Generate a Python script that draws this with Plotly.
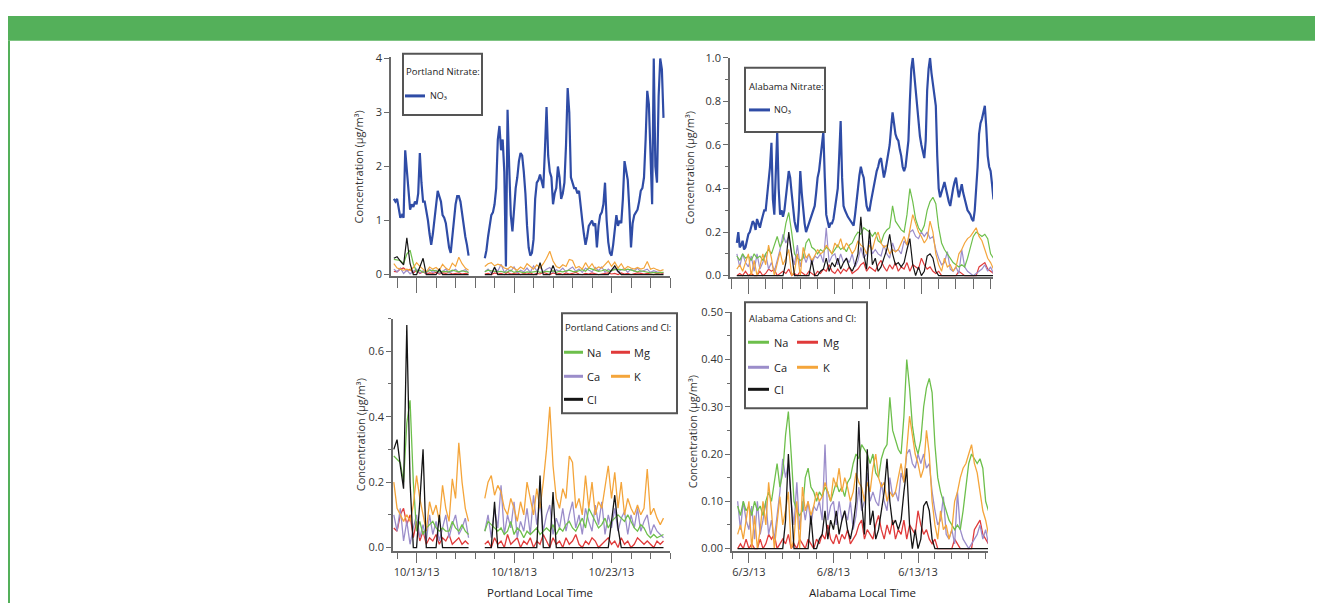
import pandas as pd
import plotly.graph_objects as go

# ---------------- data (µg/m³) ----------------
# Portland: segment 1 starts 2013-10-11 20:00, segment 2 starts 2013-10-16 12:00
P_START1 = "2013-10-11 20:00"
P_START2 = "2013-10-16 12:00"
# nitrate, 2-hour samples
no3_p1 = [1.4, 1.35, 1.4, 1.2, 1.05, 1.1, 1.05, 2.3, 1.95, 1.5,
          1.2, 1.3, 1.25, 1.35, 1.3, 1.5, 2.25, 1.7, 1.35, 1.35,
          1.2, 1.0, 0.75, 0.55, 0.75, 1.0, 1.3, 1.55, 1.45, 1.35,
          1.1, 1.05, 0.95, 0.75, 0.5, 0.4, 0.7, 1.05, 1.3, 1.45,
          1.45, 1.35, 1.1, 0.95, 0.7, 0.55, 0.35]
no3_p2 = [0.3, 0.45, 0.7, 0.9, 1.1, 1.15, 1.3, 1.6, 2.5, 2.75,
          2.3, 2.5, 1.9, 0.15, 3.05, 2.0, 1.1, 0.8, 1.2, 1.6,
          1.8, 2.1, 2.25, 2.2, 1.9, 1.5, 0.9, 0.5, 0.35, 0.4,
          0.65, 1.4, 1.7, 1.75, 1.85, 1.7, 1.6, 2.3, 3.1, 2.2,
          1.9, 1.8, 1.3, 1.5, 1.6, 2.0, 1.8, 1.4, 1.5, 1.7,
          2.4, 3.45, 3.0, 1.8, 1.7, 1.6, 1.6, 1.5, 1.55, 1.2,
          1.0, 0.75, 0.55, 0.7, 0.9, 0.95, 1.0, 0.9, 0.95, 0.5,
          0.9, 1.1, 1.15, 1.3, 1.7, 1.0, 0.6, 0.4, 0.35, 0.55,
          0.9, 1.1, 0.9, 1.0, 0.95, 1.4, 2.1, 1.9, 1.75, 1.2,
          0.5, 0.95, 1.1, 1.15, 1.2, 1.35, 1.55, 1.6, 1.8, 2.5,
          3.4, 3.15, 2.1, 1.3, 4.0, 2.0, 1.7, 3.3, 4.0, 3.8,
          2.9]
# cations and chloride, 4-hour samples
na_p1 = [0.28, 0.27, 0.26, 0.2, 0.38, 0.45, 0.2, 0.05, 0.08, 0.04,
         0.06, 0.07, 0.08, 0.06, 0.05, 0.06, 0.05, 0.05, 0.08, 0.06,
         0.05, 0.07, 0.05, 0.04]
na_p2 = [0.05, 0.08, 0.07, 0.06, 0.05, 0.06, 0.04, 0.05, 0.08, 0.04,
         0.06, 0.05, 0.03, 0.05, 0.04, 0.05, 0.06, 0.04, 0.05, 0.06,
         0.05, 0.07, 0.04, 0.06, 0.05, 0.07, 0.08, 0.06, 0.05, 0.07,
         0.09, 0.06, 0.12, 0.1, 0.08, 0.06, 0.07, 0.09, 0.06, 0.08,
         0.09, 0.1, 0.09, 0.08, 0.1, 0.08, 0.06, 0.05, 0.07, 0.06,
         0.04, 0.03, 0.04, 0.03, 0.035, 0.04]
mg_p1 = [0.06, 0.05, 0.1, 0.12, 0.07, 0.1, 0.03, 0.08, 0.02, 0.05,
         0.01, 0.03, 0.02, 0.04, 0.01, 0.03, 0.02, 0.04, 0.01, 0.02,
         0.03, 0.01, 0.02, 0.01]
mg_p2 = [0.01, 0.02, 0.0, 0.03, 0.01, 0.02, 0.0, 0.04, 0.01, 0.02,
         0.03, 0.0, 0.02, 0.01, 0.03, 0.0, 0.02, 0.01, 0.04, 0.02,
         0.0, 0.03, 0.01, 0.02, 0.0, 0.03, 0.01, 0.02, 0.04, 0.01,
         0.0, 0.02, 0.01, 0.03, 0.02, 0.0, 0.01, 0.02, 0.03, 0.01,
         0.02, 0.0, 0.03, 0.01, 0.02, 0.0, 0.01, 0.03, 0.02, 0.01,
         0.02, 0.01, 0.0, 0.02, 0.01, 0.02]
ca_p1 = [0.1, 0.05, 0.12, 0.02, 0.08, 0.01, 0.06, 0.1, 0.03, 0.07,
         0.02, 0.1, 0.04, 0.08, 0.02, 0.06, 0.1, 0.03, 0.07, 0.1,
         0.04, 0.06, 0.09, 0.03]
ca_p2 = [0.05, 0.1, 0.03, 0.12, 0.06, 0.19, 0.04, 0.1, 0.06, 0.14,
         0.03, 0.08, 0.05, 0.12, 0.04, 0.16, 0.07, 0.14, 0.05, 0.1,
         0.13, 0.04, 0.09, 0.06, 0.12, 0.05, 0.1, 0.14, 0.06, 0.1,
         0.04, 0.12, 0.08, 0.05, 0.13, 0.07, 0.14, 0.04, 0.1, 0.06,
         0.12, 0.05, 0.09, 0.11, 0.04, 0.1, 0.06, 0.12, 0.05, 0.08,
         0.1, 0.04, 0.07, 0.05, 0.04, 0.03]
k_p1 = [0.2, 0.12, 0.1, 0.08, 0.1, 0.08, 0.13, 0.22, 0.15, 0.1,
        0.05, 0.14, 0.1, 0.13, 0.08, 0.19, 0.12, 0.08, 0.21, 0.15,
        0.32, 0.2, 0.12, 0.08]
k_p2 = [0.15, 0.2, 0.22, 0.16, 0.19, 0.17, 0.12, 0.1, 0.15, 0.12,
        0.08, 0.14, 0.1, 0.2, 0.15, 0.1, 0.18, 0.12, 0.2, 0.3,
        0.43, 0.25, 0.15, 0.12, 0.18, 0.15, 0.28, 0.26, 0.12, 0.15,
        0.1, 0.22, 0.12, 0.2, 0.1, 0.14, 0.12, 0.18, 0.25, 0.15,
        0.23, 0.12, 0.2, 0.1, 0.15, 0.12, 0.1, 0.13, 0.1, 0.12,
        0.24, 0.1, 0.12, 0.09, 0.07, 0.09]
cl_p1 = [0.3, 0.33, 0.25, 0.18, 0.68, 0.2, 0.0, 0.0, 0.14, 0.3,
         0.0, 0.0, 0.0, 0.0, 0.1, 0.0, 0.0, 0.0, 0.0, 0.0,
         0.0, 0.0, 0.0, 0.0]
cl_p2 = [0.0, 0.0, 0.0, 0.14, 0.0, 0.0, 0.0, 0.0, 0.0, 0.0,
         0.0, 0.0, 0.0, 0.0, 0.0, 0.0, 0.0, 0.22, 0.0, 0.0,
         0.0, 0.17, 0.0, 0.0, 0.0, 0.0, 0.0, 0.0, 0.0, 0.0,
         0.0, 0.0, 0.0, 0.0, 0.0, 0.0, 0.0, 0.0, 0.0, 0.08,
         0.16, 0.06, 0.0, 0.0, 0.0, 0.0, 0.0, 0.0, 0.0, 0.0,
         0.0, 0.0, 0.0, 0.0, 0.0, 0.0]

# Alabama: starts 2013-06-02 08:00
A_START = "2013-06-02 08:00"
# nitrate, 2-hour samples
no3_a = [0.15, 0.2, 0.13, 0.14, 0.16, 0.12, 0.13, 0.17, 0.19, 0.2,
         0.22, 0.25, 0.24, 0.21, 0.26, 0.24, 0.22, 0.25, 0.28, 0.3,
         0.3, 0.36, 0.42, 0.5, 0.61, 0.35, 0.28, 0.45, 0.66, 0.4,
         0.28, 0.3, 0.27, 0.3, 0.35, 0.42, 0.48, 0.45, 0.38, 0.3,
         0.25, 0.22, 0.2, 0.3, 0.48, 0.38, 0.3, 0.24, 0.2, 0.22,
         0.24, 0.27, 0.28, 0.3, 0.32, 0.38, 0.45, 0.48, 0.55, 0.6,
         0.66, 0.45, 0.28, 0.25, 0.22, 0.24, 0.24, 0.26, 0.3, 0.34,
         0.4, 0.55, 0.71, 0.45, 0.32, 0.3, 0.28, 0.27, 0.26, 0.25,
         0.24, 0.23, 0.28, 0.33, 0.4, 0.46, 0.5, 0.47, 0.45, 0.38,
         0.32, 0.3, 0.3, 0.34, 0.38, 0.42, 0.45, 0.48, 0.5, 0.53,
         0.54, 0.5, 0.45, 0.48, 0.52, 0.56, 0.6, 0.68, 0.75, 0.7,
         0.65, 0.63, 0.62, 0.58, 0.55, 0.5, 0.48, 0.5, 0.55, 0.62,
         0.8, 0.95, 1.0, 0.92, 0.85, 0.76, 0.7, 0.64, 0.6, 0.56,
         0.54, 0.62, 0.85, 0.95, 1.0, 0.93, 0.88, 0.84, 0.78, 0.55,
         0.4, 0.36, 0.38, 0.41, 0.43, 0.4, 0.36, 0.34, 0.32, 0.37,
         0.4, 0.43, 0.45, 0.4, 0.36, 0.39, 0.42, 0.38, 0.35, 0.32,
         0.3, 0.29, 0.28, 0.26, 0.25, 0.3, 0.38, 0.5, 0.65, 0.7,
         0.72, 0.76, 0.78, 0.68, 0.55, 0.5, 0.48, 0.42, 0.35]
# cations and chloride, 4-hour samples
na_a = [0.09, 0.07, 0.1, 0.08, 0.09, 0.07, 0.1, 0.08, 0.09, 0.07,
        0.1, 0.12, 0.1, 0.14, 0.18, 0.13, 0.16, 0.24, 0.29, 0.2,
        0.1, 0.08, 0.07, 0.08, 0.15, 0.17, 0.13, 0.12, 0.1, 0.12,
        0.11, 0.13, 0.12, 0.1, 0.12, 0.14, 0.12, 0.13, 0.11, 0.14,
        0.15, 0.18, 0.2, 0.19, 0.22, 0.21, 0.2, 0.18, 0.2, 0.16,
        0.15, 0.19, 0.21, 0.22, 0.32, 0.25, 0.23, 0.21, 0.2, 0.28,
        0.4, 0.34, 0.26, 0.22, 0.2, 0.23, 0.3, 0.34, 0.36, 0.33,
        0.22, 0.15, 0.12, 0.1, 0.08, 0.06, 0.05, 0.04, 0.05, 0.04,
        0.08, 0.13, 0.18, 0.2, 0.19, 0.18, 0.19, 0.17, 0.1, 0.08]
mg_a = [0.0, 0.01, 0.0, 0.02, 0.0, 0.01, 0.0, 0.0, 0.02, 0.0,
        0.01, 0.03, 0.02, 0.03, 0.0, 0.01, 0.02, 0.01, 0.03, 0.0,
        0.01, 0.0, 0.02, 0.01, 0.0, 0.02, 0.01, 0.0, 0.02, 0.01,
        0.03, 0.02, 0.05, 0.02, 0.01, 0.03, 0.01, 0.03, 0.02, 0.04,
        0.01, 0.02, 0.03, 0.05, 0.06, 0.02, 0.04, 0.03, 0.02, 0.05,
        0.07, 0.04, 0.02, 0.05, 0.03, 0.06, 0.02, 0.04, 0.03, 0.06,
        0.02, 0.05, 0.04, 0.03, 0.08, 0.05, 0.03, 0.04, 0.02, 0.01,
        0.02, 0.0, 0.0, 0.0, 0.0, 0.0, 0.0, 0.02, 0.01, 0.0,
        0.0, 0.0, 0.0, 0.0, 0.04, 0.05, 0.06, 0.03, 0.02, 0.01]
ca_a = [0.1, 0.04, 0.1, 0.06, 0.04, 0.09, 0.02, 0.1, 0.03, 0.06,
        0.1, 0.03, 0.06, 0.02, 0.07, 0.12, 0.19, 0.15, 0.18, 0.1,
        0.05, 0.14, 0.04, 0.1, 0.06, 0.1, 0.05, 0.09, 0.08, 0.1,
        0.06, 0.22, 0.06, 0.09, 0.1, 0.05, 0.1, 0.06, 0.08, 0.06,
        0.1, 0.04, 0.07, 0.13, 0.08, 0.1, 0.16, 0.1, 0.12, 0.1,
        0.09, 0.14, 0.1, 0.08, 0.15, 0.11, 0.12, 0.1, 0.16, 0.14,
        0.2, 0.21, 0.18, 0.17, 0.2, 0.18, 0.2, 0.17, 0.18, 0.12,
        0.08, 0.05, 0.06, 0.11, 0.03, 0.02, 0.04, 0.01, 0.12, 0.04,
        0.02, 0.01, 0.0, 0.01, 0.02, 0.03, 0.05, 0.02, 0.04, 0.01]
k_a = [0.03, 0.05, 0.02, 0.06, 0.1, 0.0, 0.07, 0.0, 0.04, 0.1,
       0.05, 0.14, 0.08, 0.0, 0.05, 0.11, 0.05, 0.08, 0.12, 0.0,
       0.02, 0.1, 0.0, 0.13, 0.08, 0.1, 0.07, 0.09, 0.12, 0.1,
       0.11, 0.14, 0.12, 0.1, 0.15, 0.13, 0.17, 0.12, 0.15, 0.13,
       0.1, 0.12, 0.16, 0.14, 0.13, 0.1, 0.14, 0.12, 0.17, 0.2,
       0.15, 0.13, 0.14, 0.1, 0.12, 0.11, 0.12, 0.15, 0.18, 0.14,
       0.22, 0.28, 0.24, 0.2, 0.18, 0.15, 0.17, 0.25, 0.2, 0.1,
       0.05, 0.02, 0.08, 0.04, 0.05, 0.02, 0.04, 0.1, 0.12, 0.15,
       0.17, 0.18, 0.2, 0.22, 0.18, 0.16, 0.12, 0.08, 0.06, 0.03]
cl_a = [0.0, 0.0, 0.0, 0.0, 0.0, 0.0, 0.0, 0.0, 0.0, 0.0,
        0.0, 0.0, 0.0, 0.0, 0.0, 0.0, 0.0, 0.06, 0.2, 0.1,
        0.0, 0.0, 0.0, 0.0, 0.0, 0.0, 0.07, 0.0, 0.0, 0.02,
        0.03, 0.08, 0.02, 0.06, 0.04, 0.08, 0.03, 0.06, 0.08, 0.04,
        0.02, 0.05, 0.1, 0.27, 0.1, 0.03, 0.21, 0.05, 0.08, 0.02,
        0.04, 0.08, 0.12, 0.19, 0.1, 0.05, 0.06, 0.04, 0.06, 0.12,
        0.17, 0.05, 0.0, 0.04, 0.0, 0.02, 0.09, 0.1, 0.08, 0.02,
        0.0, 0.0, 0.0, 0.0, 0.0, 0.0, 0.0, 0.0, 0.0, 0.0,
        0.0, 0.0, 0.0, 0.0, 0.0, 0.0, 0.0, 0.0, 0.0, 0.0]

COLORS = {"NO3": "#2f4ca6", "Na": "#6dbf4b", "Mg": "#e03a3a",
          "Ca": "#9b8dca", "K": "#f4a53b", "Cl": "#151515"}
DRAW_ORDER = ["Mg", "Ca", "Na", "K", "Cl"]

# (segment 1, segment 2, sampling interval)
P_series = {"NO3": (no3_p1, no3_p2, "2h"), "Na": (na_p1, na_p2, "4h"),
            "Mg": (mg_p1, mg_p2, "4h"), "Ca": (ca_p1, ca_p2, "4h"),
            "K": (k_p1, k_p2, "4h"), "Cl": (cl_p1, cl_p2, "4h")}
A_series = {"NO3": (no3_a, "2h"), "Na": (na_a, "4h"), "Mg": (mg_a, "4h"),
            "Ca": (ca_a, "4h"), "K": (k_a, "4h"), "Cl": (cl_a, "4h")}


def portland_xy(key):
    s1, s2, freq = P_series[key]
    t1 = list(pd.date_range(P_START1, periods=len(s1), freq=freq))
    t2 = list(pd.date_range(P_START2, periods=len(s2), freq=freq))
    gap = t1[-1] + pd.Timedelta(freq)
    return t1 + [gap] + t2, list(s1) + [None] + list(s2)


def alabama_xy(key):
    s, freq = A_series[key]
    return list(pd.date_range(A_START, periods=len(s), freq=freq)), s


# page placement of the figure (calibrated against the rendered window)
X_OFF = 8
Y_OFF, Y_SCALE = 16.2, 0.977
W, H = 1307, 600
FONT = "Open Sans"


def fx(px):
    return (px - X_OFF) / W


def fy(py):
    return 1 - ((py - Y_OFF) / Y_SCALE) / H


fig = go.Figure()


def add(x, y, key, xa, ya, width):
    fig.add_trace(go.Scatter(x=x, y=y, mode="lines", name=key, showlegend=False,
                             connectgaps=False, xaxis=xa, yaxis=ya,
                             line=dict(color=COLORS[key], width=width)))


for key in DRAW_ORDER:
    x, y = portland_xy(key)
    add(x, y, key, "x", "y", 1.2)
x, y = portland_xy("NO3")
add(x, y, "NO3", "x", "y", 2.2)
for key in DRAW_ORDER:
    x, y = portland_xy(key)
    add(x, y, key, "x3", "y3", 1.3)

for key in DRAW_ORDER:
    x, y = alabama_xy(key)
    add(x, y, key, "x2", "y2", 1.2)
x, y = alabama_xy("NO3")
add(x, y, "NO3", "x2", "y2", 2.2)
for key in DRAW_ORDER:
    x, y = alabama_xy(key)
    add(x, y, key, "x4", "y4", 1.3)

AX = "#6a6a6a"
DAY = 86400000
tickfont = dict(family=FONT, size=11, color="#333")
YT = "Concentration (µg/m³)"


def xax(domain, rng, tick0, labels, ticklen, minorlen, anchor):
    return dict(domain=domain, anchor=anchor, type="date", range=rng,
                showline=True, linecolor=AX, linewidth=1.5, showgrid=False,
                zeroline=False, ticks="outside", ticklen=ticklen, tickwidth=1.3,
                tickcolor=AX, dtick=5 * DAY, tick0=tick0,
                showticklabels=labels, tickformat="%-m/%-d/%y", tickfont=tickfont,
                minor=dict(dtick=DAY, tick0=tick0, ticks="outside",
                           ticklen=minorlen, tickwidth=1.3, tickcolor=AX, showgrid=False))


def yax(domain, rng, dtick, fmt, minor, anchor, standoff):
    d = dict(domain=domain, anchor=anchor, range=rng, showline=True, linecolor=AX,
             linewidth=1.5, showgrid=False, zeroline=False, ticks="outside",
             ticklen=5, tickwidth=1.3, tickcolor=AX, dtick=dtick, tick0=0,
             tickformat=fmt, tickfont=tickfont,
             title=dict(text=YT, standoff=standoff,
                        font=dict(family=FONT, size=11, color="#333")))
    if minor:
        d["minor"] = dict(dtick=minor, tick0=0, ticks="outside", ticklen=3,
                          tickwidth=1, tickcolor=AX, showgrid=False)
    return d


fig.update_layout(
    width=W, height=H, autosize=False,
    margin=dict(l=0, r=0, t=0, b=0),
    paper_bgcolor="white", plot_bgcolor="white",
    font=dict(family=FONT, color="#333"),
    xaxis=xax([fx(391), fx(670)], ["2013-10-11 16:30", "2013-10-26 00:00"],
              "2013-10-13", False, 15, 10, "y"),
    yaxis=yax([fy(276), fy(57.5)], [-0.03, 4.02], 1, "d", None, "x", 10),
    xaxis2=xax([fx(730), fx(993)], ["2013-06-01 22:30", "2013-06-17 03:20"],
               "2013-06-03", False, 15, 10, "y2"),
    yaxis2=yax([fy(277), fy(58)], [-0.007, 1.0], 0.2, ".1f", 0.1, "x2", 9),
    xaxis3=xax([fx(393), fx(670)], ["2013-10-11 19:00", "2013-10-26 00:00"],
               "2013-10-13", True, 10, 6, "y3"),
    yaxis3=yax([fy(550.3), fy(318.3)], [-0.01, 0.7], 0.2, ".1f", 0.1, "x3", 1),
    xaxis4=xax([fx(732), fx(988)], ["2013-06-02 00:00", "2013-06-17 03:20"],
               "2013-06-03", True, 10, 6, "y4"),
    yaxis4=yax([fy(550.4), fy(312)], [-0.005, 0.5], 0.1, ".2f", 0.05, "x4", 1),
)

shapes = []
annots = []

GREEN = "#54b05a"
shapes.append(dict(type="rect", xref="paper", yref="paper", x0=0, x1=1,
                   y0=fy(41), y1=1, fillcolor=GREEN, line=dict(width=0), layer="above"))
shapes.append(dict(type="line", xref="paper", yref="paper", x0=fx(9), x1=fx(9),
                   y0=fy(41), y1=0, line=dict(color=GREEN, width=2), layer="above"))


def text(x, y, s, size, anchor="left"):
    annots.append(dict(xref="paper", yref="paper", x=fx(x), y=fy(y), text=s,
                       showarrow=False, xanchor=anchor, yanchor="middle",
                       font=dict(family=FONT, size=size, color="#222")))


def box(x0, y0, x1, y1):
    shapes.append(dict(type="rect", xref="paper", yref="paper", x0=fx(x0), x1=fx(x1),
                       y0=fy(y1), y1=fy(y0), fillcolor="white",
                       line=dict(color="#555", width=2), layer="above"))


def sample(x0, x1, y, key):
    shapes.append(dict(type="line", xref="paper", yref="paper", x0=fx(x0), x1=fx(x1),
                       y0=fy(y), y1=fy(y), line=dict(color=COLORS[key], width=3),
                       layer="above"))


text(540, 592, "Portland Local Time", 11.5, "center")
text(862, 592, "Alabama Local Time", 11.5, "center")

box(403, 54, 482, 115)
text(404, 72, "Portland Nitrate:", 9.5)
sample(405, 425, 96, "NO3")
text(428, 96, "NO₃", 9)

box(745, 68, 825, 132)
text(747, 87, "Alabama Nitrate:", 9.5)
sample(749, 770, 110, "NO3")
text(772, 110, "NO₃", 9)

box(562, 313, 677, 413)
text(563, 327, "Portland Cations and Cl:", 9.5)
rows_p = [("Na", 564, 352), ("Mg", 611, 352), ("Ca", 564, 376), ("K", 611, 376), ("Cl", 564, 399)]
for key, x0, y0 in rows_p:
    sample(x0, x0 + 19, y0, key)
    text(x0 + 21, y0, key, 11)

box(745, 302, 867, 408)
text(747, 318, "Alabama Cations and Cl:", 9.5)
rows_a = [("Na", 748, 342), ("Mg", 797, 342), ("Ca", 748, 367), ("K", 797, 367), ("Cl", 748, 389)]
for key, x0, y0 in rows_a:
    sample(x0, x0 + 21, y0, key)
    text(x0 + 24, y0, key, 11)

fig.update_layout(shapes=shapes, annotations=annots)
fig.write_html("out.html")
